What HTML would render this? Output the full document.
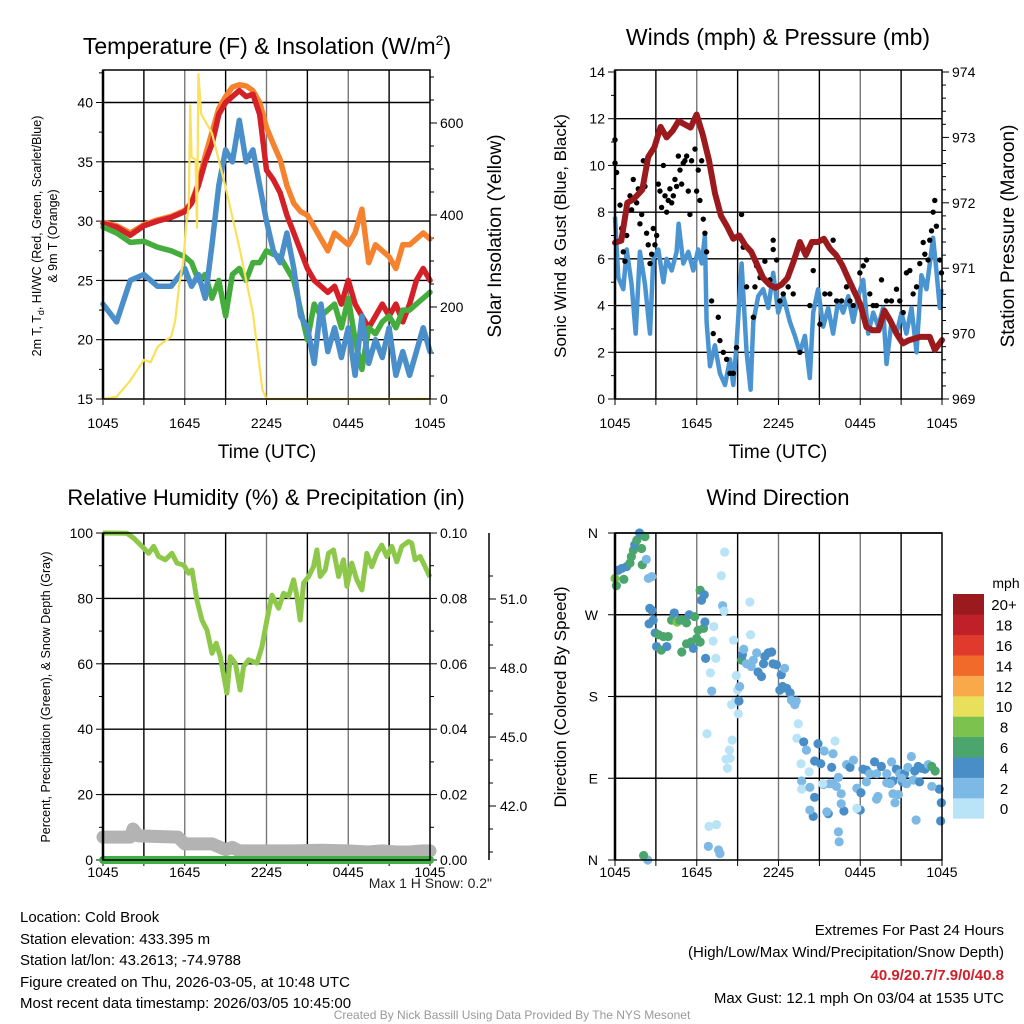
<!DOCTYPE html>
<html><head><meta charset="utf-8"><style>
html,body{margin:0;padding:0;background:#fff;}
svg{display:block;font-family:"Liberation Sans",sans-serif;}
</style></head><body>
<svg id="chart" width="1024" height="1024" viewBox="0 0 1024 1024" xmlns="http://www.w3.org/2000/svg">
<rect width="1024" height="1024" fill="#fff"/>
<g id="p1"></g>
<g id="p2"></g>
<g id="p3"></g>
<g id="p4"></g>
<g id="txt" font-size="15" fill="#000">
<text x="20" y="922">Location: Cold Brook</text>
<text x="20" y="944">Station elevation: 433.395 m</text>
<text x="20" y="965">Station lat/lon: 43.2613; -74.9788</text>
<text x="20" y="987">Figure created on Thu, 2026-03-05, at 10:48 UTC</text>
<text x="20" y="1008">Most recent data timestamp: 2026/03/05 10:45:00</text>
<text x="1004" y="935" text-anchor="end">Extremes For Past 24 Hours</text>
<text x="1004" y="957" text-anchor="end">(High/Low/Max Wind/Precipitation/Snow Depth)</text>
<text x="1004" y="980" text-anchor="end" fill="#d0202a" font-weight="bold">40.9/20.7/7.9/0/40.8</text>
<text x="1004" y="1003" text-anchor="end">Max Gust: 12.1 mph On 03/04 at 1535 UTC</text>
<text x="512" y="1019" text-anchor="middle" font-size="12" fill="#999">Created By Nick Bassill Using Data Provided By The NYS Mesonet</text>
</g>
</svg>
<script>
// ---------- data ----------
const xTickLabels = ["1045","1645","2245","0445","1045"];
const tempHours = [0,1,2,3,4,5,6,6.5,7,7.5,8,8.5,9,9.5,10,10.5,11,11.5,12,12.5,13,13.5,14,14.5,15,15.5,16,16.5,17,17.5,18,18.5,19,19.5,20,20.5,21,21.5,22,22.5,23,23.5,24];
const tempRed   = [29.8,29.5,28.8,29.6,30,30.3,30.8,31.5,33,35,36.5,39,40,40.5,41,40.5,40.7,39,34.3,33.5,32.4,30.5,29,27.5,26,25,24.5,24,24.5,23,25,23,22,21,22,23,22,23,21.5,23,25,26,25];
const tempOrange= [29.9,29.6,29,29.7,30.1,30.4,30.9,31.6,33.2,35.5,37.5,39.5,40.5,41.3,41.5,41.4,41,40,37.9,36.5,35.2,33,31.5,30.8,30.5,29.5,28.5,27.5,29,28.5,28,29,31,26.5,28,27.5,27,26,28,28,28.5,29,28.5];
const tempGreen = [29.5,29,28.2,28.3,27.8,27.5,27,26.5,25,25.5,23.5,25,22,25.5,26,25,26.5,26.5,27.5,27.2,27,26,25,22.5,20,23,22,22.5,23,21,23.5,20,17.5,21,20.5,21.5,22,21,22.5,22.5,23,23.5,24];
const tempBlue  = [23,21.5,25,25.5,24.5,24.5,26,24.5,25.5,23.5,28,33,36,35,38.5,35,36,33,30,27.5,26.5,29,26,22,21,18,23,19,21,18.5,21,17,22,18,20,18.5,21,17,19,17,19,21,19];
const solarHours = [0,1,2,3,3.5,4,4.5,5,5.3,5.6,5.9,6.1,6.3,6.4,6.5,6.8,6.9,7.0,7.2,8,9,10,11,11.7,12,24];
const solarValues= [0,5,40,85,80,113,125,135,170,250,300,378,420,640,526,520,370,708,620,578,460,330,187,20,0,0];

const presHours = [0,0.46,0.9,1.34,2,2.44,2.89,3.35,3.79,4.23,4.67,5.11,5.55,5.99,6.43,6.9,7.33,7.78,8.2,8.68,9.12,9.56,10,10.44,10.88,11.34,11.78,12.22,12.66,13.1,13.57,14,14.45,14.9,15.33,15.77,16.23,16.67,17.1,17.55,18,18.46,18.9,19.34,19.78,20.2,20.66,21.12,21.6,22.4,23.1,23.47,24];
const presValues= [971.39,971.42,972,972.05,972.2,972.7,972.85,973.16,973,973.1,973.25,973.2,973.15,973.35,973.05,972.65,972.15,971.8,971.65,971.45,971.5,971.35,971.25,971.05,970.85,970.75,970.7,970.75,970.85,971.1,971.4,971.2,971.4,971.4,971.45,971.3,971.2,971.05,970.85,970.65,970.45,970.1,970.05,970.05,970.35,970.2,970,969.85,969.9,969.95,969.95,969.75,969.9];
const windHours = [0,0.24,0.61,0.86,1.22,1.52,1.83,2.2,2.57,2.81,3.18,3.55,3.79,4.16,4.52,4.67,5.01,5.38,5.75,6.11,6.36,6.6,6.72,6.97,7.33,7.7,8.07,8.44,8.68,8.92,9.29,9.66,9.95,10.15,10.51,10.88,11.25,11.61,11.98,12.35,12.84,13.2,13.57,13.94,14.3,14.55,14.91,15.28,15.65,16.01,16.38,16.75,17.12,17.48,17.85,18.22,18.58,18.95,19.32,19.68,19.93,20.29,20.66,21.03,21.39,21.76,22.13,22.49,22.86,23.35,23.59,23.84,23.96];
const windSpeeds= [7.8,5.2,4.7,6.4,4.9,2.8,6.3,4.9,2.8,6.0,6.4,5.0,6.0,5.5,6.3,7.5,5.8,6.3,5.5,6.4,5.8,7.0,3.3,1.4,2.3,1.1,0.6,1.7,0.6,2.3,5.8,2.0,0.4,3.3,4.4,4.7,3.9,5.4,3.7,4.4,3.3,2.7,2.0,2.7,0.9,3.7,4.7,3.1,3.9,2.8,4.2,3.7,4.4,3.3,4.4,5.1,2.8,3.7,3.1,3.9,1.5,3.3,2.8,3.7,2.8,3.9,2.0,5.3,4.7,6.9,5.5,3.9,4.7];
const gustHours = [0,0,0.12,0.37,0.49,0.61,0.73,0.86,1.1,1.22,1.34,1.59,1.71,1.83,1.96,2.08,2.2,2.32,2.44,2.57,2.69,2.81,2.93,3.06,3.18,3.3,3.42,3.55,3.67,3.79,3.91,4.03,4.16,4.28,4.4,4.52,4.65,4.77,4.89,5.01,5.13,5.26,5.38,5.5,5.62,5.87,5.99,6.11,6.23,6.36,6.48,6.6,6.72,7.09,7.21,7.58,7.7,7.95,8.19,8.44,8.68,8.92,9.29,9.41,9.66,10.15,10.27,10.39,10.64,11.0,11.37,11.61,11.61,11.86,12.1,12.35,12.71,13.08,13.57,14.3,14.55,15.04,15.4,15.77,16.01,16.26,16.63,16.99,17.24,17.48,17.97,18.22,18.46,18.7,18.95,19.19,19.56,19.93,20.29,20.66,20.9,21.15,21.39,21.64,21.88,22.13,22.37,22.62,22.74,22.98,23.1,23.23,23.35,23.47,23.59,23.84,23.96];
const gustSpeeds= [11.1,10.1,9.7,8.3,7.3,6.3,5.9,7.0,8.7,8.1,9.4,8.4,9.0,7.5,7.9,10.2,9.1,7.1,6.6,5.8,6.2,7.3,6.6,7.0,9.2,8.9,8.2,10.0,8.7,8.0,8.5,9.0,8.4,8.7,9.4,9.1,10.4,9.8,9.2,10.1,10.2,10.4,8.9,7.9,10.2,10.7,8.9,9.8,8.5,10.2,7.7,7.1,6.3,4.2,2.8,3.5,2.5,2.0,1.7,1.1,1.1,2.2,7.9,6.5,4.8,3.5,4.8,5.7,5.2,5.9,5.1,6.4,6.8,5.95,4.2,4.5,4.8,4.5,2.0,4.0,5.5,3.2,4.5,4.5,6.8,4.2,4.2,4.8,4.2,4.0,5.4,5.7,5.95,4.5,4.0,4.0,5.1,4.2,4.2,4.7,4.2,3.7,5.4,5.5,4.5,4.8,5.8,6.7,6.2,5.95,6.8,7.2,8.0,8.5,7.4,5.95,5.4];

const rhHours = [0,1.76,2.25,2.98,3.35,3.72,4.08,4.57,5.06,5.43,5.92,6.28,6.53,6.89,7.26,7.63,8.0,8.31,8.61,9.09,9.34,9.71,10.07,10.32,10.68,11.3,11.66,12.03,12.4,12.89,13.25,13.62,13.99,14.23,14.47,14.72,15.09,15.45,15.7,15.94,16.31,16.55,16.92,17.29,17.65,17.9,18.26,18.63,19.0,19.24,19.36,19.73,20.1,20.46,20.83,21.2,21.56,21.93,22.42,22.66,22.91,23.28,23.64,24.0];
const rhValues = [100,99.9,98.4,95.4,93.8,95.9,92.8,91.8,93.8,90.8,90.2,87.7,88.7,79.5,73.4,70.3,63.2,66.3,62.2,51.0,62.2,60.2,52.0,59.1,61.2,60.2,65.2,73.4,81.0,77.0,81.6,80.6,85.7,80.6,73.4,84.7,86.7,89.7,94.8,86.7,88.7,93.8,94.8,86.7,91.8,83.7,90.8,85.7,82.6,89.7,93.8,89.7,93.8,96.3,92.8,95.9,91.2,95.9,97.4,96.9,91.8,92.8,89.7,86.5];
const precipHours = [0,24];
const precipValues = [0,0];
const snowHours = [0,2.0,2.2,2.6,5.5,6.0,8.0,9.0,9.5,10,14,16,18,19.5,20.5,21.5,22.5,23.5,24];
const snowDepth = [40.65,40.65,41.0,40.7,40.65,40.35,40.35,40.1,40.2,40.05,40.05,40.08,40.05,40.0,40.05,40.0,40.0,40.05,40.05];
const snowTickLabels = ["42.0","45.0","48.0","51.0"];

const dirHours = [0,0.1,0.25,0.5,0.65,0.85,1.1,1.2,1.35,1.45,1.6,1.8,1.95,2.0,2.2,2.3,2.45,2.7,2.4,2.1,
2.55,2.7,2.8,2.5,2.95,3.2,3.55,3.9,3.05,3.4,3.8,4.15,4.35,4.55,4.75,5.0,5.25,5.45,5.85,4.9,5.25,5.6,5.75,6.0,6.25,6.1,6.5,6.6,6.25,6.35,6.55,6.65,
8.05,7.8,7.9,8.0,7.25,7.2,7.4,7.0,7.1,6.75,8.6,8.4,8.15,8.45,8.25,8.7,8.9,9.0,8.55,8.8,9.05,9.9,9.95,6.9,7.45,6.85,7.6,7.7,
9.1,9.15,9.3,9.35,9.45,9.65,10.0,10.15,10.4,10.5,10.75,10.9,11.0,11.25,11.5,11.6,11.85,12.2,12.1,12.45,12.3,12.6,12.85,12.95,13.2,13.3,13.45,13.35,13.65,13.85,14.05,14.25,13.7,13.7,14.3,14.65,14.9,15.1,15.35,15.9,16.0,16.15,16.4,16.6,17.0,17.25,17.5,17.75,18.05,18.2,18.45,18.7,19.05,19.2,19.55,19.95,20.3,20.4,20.65,20.9,21.25,21.5,21.75,22.0,22.25,22.5,22.75,23.0,23.25,23.5,23.8,23.95,23.9,22.1,21.9,22.35,23.25,20.4,20.8,20.55,19.3,19.2,18.45,17.85,18.0,17.75,16.8,16.6,16.4,16.45,16.25,16.0,15.75,15.65,15.55,15.3,14.55,14.3,14.65,15.25,19.95,20.2,21.1,21.4,21.05];
const dirDegrees = [310,302,319,321,309,323,327,334,341,347,352,360,343,325,356,331,310,312,0,5,
277,275,264,260,250,248,246,246,235,231,235,264,272,262,264,264,261,270,268,229,238,240,233,244,240,253,255,262,297,286,292,222,
339,313,280,274,257,241,222,206,186,139,132,121,111,112,101,242,203,187,171,174,161,284,248,37,39,15,11,7,
175,191,220,226,232,216,213,220,228,207,202,216,224,228,229,216,215,204,187,211,191,189,184,176,171,175,150,134,106,130,121,97,87,78,80,109,128,106,120,102,117,131,91,73,105,102,110,79,74,100,99,95,108,95,103,95,108,87,100,95,95,102,114,98,103,101,100,105,103,98,78,63,43,44,88,86,81,73,72,63,70,67,86,56,55,57,54,62,31,20,81,84,84,51,53,83,48,55,69,84,85,84,86,84,90];
const dirSpeeds = [8,6,4,4,6,4,6,6,6,4,6,4,6,6,6,2,2,2,2,6,
4,4,4,4,4,6,6,6,4,6,4,6,4,8,6,6,6,4,6,6,6,6,4,6,6,6,6,4,6,4,4,4,
0,0,2,0,0,0,0,0,2,0,0,0,0,0,0,0,0,0,0,0,0,0,0,0,0,2,2,2,
4,2,6,4,2,2,2,2,2,4,4,4,4,4,4,4,4,4,4,2,4,4,4,2,2,2,0,0,0,4,2,0,2,0,2,4,4,4,2,4,2,0,2,2,2,4,2,2,4,4,4,2,4,2,4,2,2,4,4,2,4,2,2,4,4,4,4,2,6,6,4,4,4,2,2,4,2,2,2,2,2,2,2,2,4,0,4,2,2,2,2,2,2,4,2,2,4,2,4,0,2,2,4,2,2];
const speedBins = ["0","2","4","6","8","10","12","14","16","18","20+"];
const speedColors = ["#b9e3f7","#7db9e5","#4a8ec8","#4ba66d","#7bc24e","#e8e05a","#f9a84a","#f26a2a","#e03a2c","#c0202a","#9b1a1d"];

// ---------- helpers ----------
const NS="http://www.w3.org/2000/svg";
function mk(parent,tag,attrs){const e=document.createElementNS(NS,tag);for(const k in attrs)e.setAttribute(k,attrs[k]);parent.appendChild(e);return e;}
function txt(parent,x,y,s,attrs){const e=mk(parent,"text",Object.assign({x:x,y:y},attrs||{}));e.textContent=s;return e;}
function lin(d0,d1,r0,r1){return v=>r0+(v-d0)*(r1-r0)/(d1-d0);}
function pathD(xs,ys,fx,fy){const n=Math.min(xs.length,ys.length);let d="";for(let i=0;i<n;i++)d+=(i?"L":"M")+fx(xs[i]).toFixed(1)+","+fy(ys[i]).toFixed(1);return d;}

function frame(g,x0,y0,x1,y1,labelY){
  // vertical grid every 3h
  const fx=lin(0,24,x0,x1);
  for(let h=3;h<24;h+=3){
    const gl=mk(g,"line",{x1:fx(h),x2:fx(h),y1:y0,y2:y1,stroke:h%6==0?"#777":"#000","stroke-width":1.4});
    
    
  }
  for(let h=0;h<=24;h+=3){
    mk(g,"line",{x1:fx(h),x2:fx(h),y1:y1,y2:y1+6,stroke:"#000","stroke-width":1});
  }
  xTickLabels.forEach((s,i)=>{
    const t=txt(g,fx(i*6),labelY,s,{"font-size":14,"text-anchor":"middle"});
    
    
  });
  return fx;
}
function hgrid(g,x0,x1,y){mk(g,"line",{x1:x0,x2:x1,y1:y,y2:y,stroke:"#000","stroke-width":1.4});}
function border(g,x0,y0,x1,y1){
  const b=mk(g,"rect",{x:x0,y:y0,width:x1-x0,height:y1-y0,fill:"none",stroke:"#000","stroke-width":1.5});
  
  
  mk(g,"line",{x1:x0,x2:x0,y1:y0,y2:y1,stroke:"#000","stroke-width":2.5});
}
function leftAxis(g,x0,fy,vals,minor,fmt){
  vals.forEach(v=>{mk(g,"line",{x1:x0-7,x2:x0,y1:fy(v),y2:fy(v),stroke:"#000","stroke-width":1});
    const t=txt(g,x0-10,fy(v)+5,fmt(v),{"font-size":14,"text-anchor":"end"});
    
    });
  minor.forEach(v=>mk(g,"line",{x1:x0-4,x2:x0,y1:fy(v),y2:fy(v),stroke:"#000","stroke-width":1}));
}
function rightAxis(g,x1,fy,vals,minor,fmt){
  vals.forEach(v=>{mk(g,"line",{x1:x1,x2:x1+7,y1:fy(v),y2:fy(v),stroke:"#000","stroke-width":1});
    const t=txt(g,x1+10,fy(v)+5,fmt(v),{"font-size":14});
    
    });
  minor.forEach(v=>mk(g,"line",{x1:x1,x2:x1+4,y1:fy(v),y2:fy(v),stroke:"#000","stroke-width":1}));
}
function range(a,b,s){const r=[];for(let v=a;v<=b+1e-9;v+=s)r.push(+v.toFixed(4));return r;}

// ---------- panel 1 ----------
(function(){
  const g=document.getElementById("p1");
  const X0=103,Y0=70,X1=430,Y1=399;
  const fy=lin(15,45,399,399-30*11.86);
  const fs=lin(0,700,399,399-700*0.46);
  const fx=frame(g,X0,Y0,X1,Y1,428);
  [20,25,30,35,40].forEach(v=>hgrid(g,X0,X1,fy(v)));
  leftAxis(g,X0,fy,[15,20,25,30,35,40],range(17.5,42.5,5),v=>String(v));
  rightAxis(g,X1,fs,[0,200,400,600],range(50,700,50).filter(v=>v%200),v=>String(v));
  const series=[["temp-orange",tempOrange,"#f5822e"],["temp-red",tempRed,"#d42027"],["dewpoint-green",tempGreen,"#45ac3e"],["windchill-blue",tempBlue,"#4a8fc9"]];
  series.forEach(s=>{
    const p=mk(g,"path",{d:pathD(tempHours,s[1],fx,fy),fill:"none",stroke:s[2],"stroke-width":5.5,"stroke-linejoin":"round","stroke-linecap":"round"});
    
    
  });
  const sp=mk(g,"path",{d:pathD(solarHours,solarValues,fx,fs),fill:"none",stroke:"#fbe05a","stroke-width":2.2});
  
  
  border(g,X0,Y0,X1,Y1);
  const t=txt(g,267,54,"Temperature (F) & Insolation (W/m",{"font-size":23,"text-anchor":"middle"});
  const sup=mk(t,"tspan",{"font-size":14,dy:-9});sup.textContent="2";
  const cl=mk(t,"tspan",{dy:9});cl.textContent=")";
  
  
  const yl=mk(g,"text",{transform:"translate(41,236) rotate(-90)","font-size":12.5,"text-anchor":"middle"});
  yl.innerHTML='2m T, T<tspan font-size="9" dy="3">d</tspan><tspan dy="-3">, HI/WC (Red, Green, Scarlet/Blue)</tspan>';
  
  
  const yl2=txt(g,0,0,"& 9m T (Orange)",{transform:"translate(57,236) rotate(-90)","font-size":12.5,"text-anchor":"middle"});
  
  
  const yr=txt(g,0,0,"Solar Insolation (Yellow)",{transform:"translate(501,236) rotate(-90)","font-size":19,"text-anchor":"middle"});
  
  
  const xt=txt(g,267,458,"Time (UTC)",{"font-size":19,"text-anchor":"middle"});
  
  
})();

// ---------- panel 2 ----------
(function(){
  const g=document.getElementById("p2");
  const X0=615,Y0=70,X1=942,Y1=399;
  const fy=lin(0,14,399,72);
  const fp=lin(969,974,399,72);
  const fx=frame(g,X0,Y0,X1,Y1,428);
  [2,4,6,8,10,12].forEach(v=>hgrid(g,X0,X1,fy(v)));
  leftAxis(g,X0,fy,range(0,14,2),range(1,13,2),v=>String(v));
  rightAxis(g,X1,fp,range(969,974,1),range(969.2,973.8,0.2).filter(v=>Math.abs(v-Math.round(v))>0.01),v=>String(v));
  const wp=mk(g,"path",{d:pathD(windHours,windSpeeds,fx,fy),fill:"none",stroke:"#4a95d1","stroke-width":4.5,"stroke-linejoin":"round"});
  
  
  const n=Math.min(gustHours.length,gustSpeeds.length);
  for(let i=0;i<n;i++){
    const c=mk(g,"circle",{cx:fx(gustHours[i]),cy:fy(gustSpeeds[i]),r:2.7,fill:"#000"});
    
    
  }
  const pp=mk(g,"path",{d:pathD(presHours,presValues,fx,fp),fill:"none",stroke:"#9b1a1d","stroke-width":6,"stroke-linejoin":"round","stroke-linecap":"round"});
  
  
  border(g,X0,Y0,X1,Y1);
  const t=txt(g,778,45,"Winds (mph) & Pressure (mb)",{"font-size":23,"text-anchor":"middle"});
  
  
  const yl=txt(g,0,0,"Sonic Wind & Gust (Blue, Black)",{transform:"translate(566,236) rotate(-90)","font-size":17,"text-anchor":"middle"});
  
  
  const yr=txt(g,0,0,"Station Pressure (Maroon)",{transform:"translate(1014,236) rotate(-90)","font-size":19,"text-anchor":"middle"});
  
  
  const xt=txt(g,778,458,"Time (UTC)",{"font-size":19,"text-anchor":"middle"});
  
  
})();

// ---------- panel 3 ----------
(function(){
  const g=document.getElementById("p3");
  const X0=103,Y0=533,X1=430,Y1=860;
  const fy=lin(0,100,860,533);
  const fpr=lin(0,0.1,860,533);
  const fsn=lin(51,42,599,806);
  const fx=frame(g,X0,Y0,X1,Y1,877);
  [20,40,60,80].forEach(v=>hgrid(g,X0,X1,fy(v)));
  leftAxis(g,X0,fy,range(0,100,20),range(10,90,20),v=>String(v));
  rightAxis(g,X1,fpr,range(0,0.1,0.02),range(0.01,0.09,0.02),v=>v.toFixed(2));
  // snow axis
  const sa=mk(g,"line",{x1:489,x2:489,y1:533,y2:860,stroke:"#000","stroke-width":1.5});
  
  
  snowTickLabels.forEach(s=>{const v=parseFloat(s);
    mk(g,"line",{x1:489,x2:496,y1:fsn(v),y2:fsn(v),stroke:"#000","stroke-width":1});
    const t=txt(g,500,fsn(v)+5,s,{"font-size":14});
    
    });
  range(40,52,1).filter(v=>v%3).forEach(v=>{const y=fsn(v);if(y>=533&&y<=860)mk(g,"line",{x1:489,x2:493,y1:y,y2:y,stroke:"#000","stroke-width":1});});
  const sp=mk(g,"path",{d:pathD(snowHours,snowDepth,fx,fsn),fill:"none",stroke:"#b3b3b3","stroke-width":13,"stroke-linejoin":"round","stroke-linecap":"round"});
  
  
  const pp=mk(g,"path",{d:pathD(precipHours,precipValues,fx,fpr),fill:"none",stroke:"#3fae45","stroke-width":8,"stroke-linecap":"round"});
  
  
  const rp=mk(g,"path",{d:pathD(rhHours,rhValues,fx,fy),fill:"none",stroke:"#8dc84a","stroke-width":5,"stroke-linejoin":"round"});
  
  
  border(g,X0,Y0,X1,Y1);
  const t=txt(g,266,505,"Relative Humidity (%) & Precipitation (in)",{"font-size":22,"text-anchor":"middle"});
  
  
  const yl=txt(g,0,0,"Percent, Precipitation (Green), & Snow Depth (Gray)",{transform:"translate(50,697) rotate(-90)","font-size":12.5,"text-anchor":"middle"});
  
  
  const sn=txt(g,492,888,"Max 1 H Snow: 0.2\"",{"font-size":14,"text-anchor":"end","fill":"#222"});
  
  
})();

// ---------- panel 4 ----------
(function(){
  const g=document.getElementById("p4");
  const X0=615,Y0=533,X1=942,Y1=860;
  const fy=lin(0,360,860,533);
  const fx=frame(g,X0,Y0,X1,Y1,877);
  [90,180,270,360].forEach(v=>hgrid(g,X0,X1,fy(v)));
  const dl=["N","E","S","W","N"];
  [0,90,180,270,360].forEach((v,i)=>{mk(g,"line",{x1:X0-7,x2:X0,y1:fy(v),y2:fy(v),stroke:"#000"});
    const t=txt(g,X0-17,fy(v)+5,dl[i],{"font-size":14,"text-anchor":"end"});
    
    });
  const n=Math.min(dirHours.length,dirDegrees.length,dirSpeeds.length);
  for(let i=0;i<n;i++){
    const bin=Math.min(10,Math.floor(dirSpeeds[i]/2));
    const c=mk(g,"circle",{cx:fx(dirHours[i]),cy:fy(dirDegrees[i]),r:4.6,fill:speedColors[bin]});
    
    
  }
  border(g,X0,Y0,X1,Y1);
  const t=txt(g,778,505,"Wind Direction",{"font-size":22,"text-anchor":"middle"});
  
  
  const yl=txt(g,0,0,"Direction (Colored By Speed)",{transform:"translate(566,697) rotate(-90)","font-size":17,"text-anchor":"middle"});
  
  
  // colorbar
  const cb=mk(g,"g",{});
  
  
  const h=20.4,top=594;
  speedBins.forEach((s,i)=>{
    const k=speedBins.length-1-i;
    const r=mk(cb,"rect",{x:953,y:top+k*h,width:31,height:h+0.3,fill:speedColors[i]});
    
    
    const t=txt(cb,1004,top+k*h+h/2+6,s,{"font-size":15,"text-anchor":"middle"});
    
    
  });
  const u=txt(cb,1006,588,"mph",{"font-size":14,"text-anchor":"middle"});
  
  
})();
</script>
</body></html>
